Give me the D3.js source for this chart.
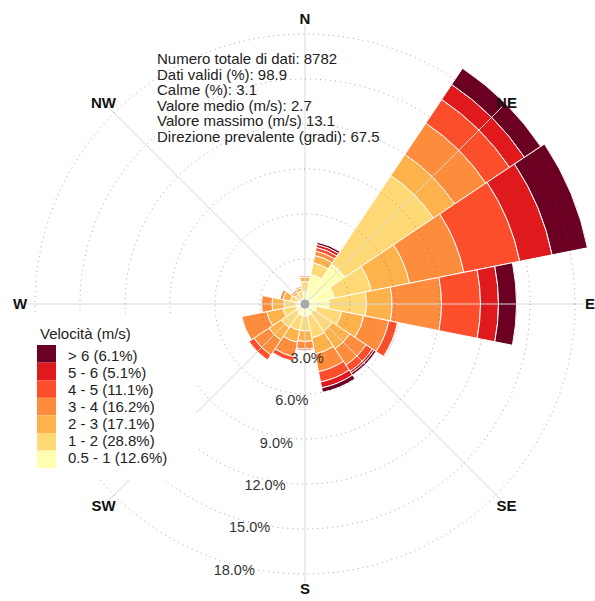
<!DOCTYPE html>
<html>
<head>
<meta charset="utf-8">
<script src="https://cdn.jsdelivr.net/npm/d3@7"></script>
<style>
  html, body { margin: 0; padding: 0; background: #fff; }
  svg { display: block; font-family: Arial, "Liberation Sans", sans-serif; }
</style>
</head>
<body>
<svg id="chart" width="595" height="601"></svg>
<script>
// Wind directions (16 sectors, clockwise from north)
const directions = ["N","NNE","NE","ENE","E","ESE","SE","SSE","S","SSW","SW","WSW","W","WNW","NW","NNW"];

// Speed classes, from slowest to fastest
const speedClasses = ["0.5 - 1","1 - 2","2 - 3","3 - 4","4 - 5","5 - 6","> 6"];
const classShares  = ["12.6%","28.8%","17.1%","16.2%","11.1%","5.1%","6.1%"];
const classColors  = ["#ffffb2","#fed976","#feb24c","#fd8d3c","#fc4e2a","#e0191c","#6b0023"];

// Frequency (%) of each speed class for every direction
const freq05_1 = [0.8, 2.0, 3.2, 2.0, 1.6, 0.8, 0.7, 0.8, 0.8, 0.8, 0.7, 0.6, 0.6, 0.5, 0.4, 0.4];
const freq1_2  = [0.7, 0.8, 7.1, 2.5, 2.5, 1.7, 1.5, 1.5, 1.0, 1.0, 1.2, 0.9, 0.8, 0.5, 0.4, 0.5];
const freq2_3  = [0.3, 0.5, 1.7, 2.6, 1.7, 1.5, 1.4, 1.1, 0.7, 0.8, 1.0, 1.1, 0.8, 0.5, 0.2, 0.2];
const freq3_4  = [0.1, 0.3, 2.5, 3.7, 3.3, 1.7, 1.3, 1.2, 0.5, 1.0, 1.2, 1.7, 0.7, 0.2, 0.1, 0.1];
const freq4_5  = [0.0, 0.25,1.9, 3.8, 2.6, 0.6, 0.5, 0.7, 0.1, 0.3, 0.4, 0.0, 0.0, 0.0, 0.0, 0.0];
const freq5_6  = [0.0, 0.2, 1.2, 2.2, 1.2, 0.05,0.15,0.4, 0.0, 0.0, 0.0, 0.0, 0.0, 0.0, 0.0, 0.0];
const freqGt6  = [0.0, 0.15,1.3, 2.4, 1.2, 0.05,0.15,0.3, 0.0, 0.0, 0.0, 0.0, 0.0, 0.0, 0.0, 0.0];
const classFreqs = [freq05_1, freq1_2, freq2_3, freq3_4, freq4_5, freq5_6, freqGt6];

// Radial grid
const gridTicks = [3, 6, 9, 12, 15, 18];
const compass = [["N",0],["NE",45],["E",90],["SE",135],["S",180],["SW",225],["W",270],["NW",315]];

// Summary statistics
const statsLines = [
  "Numero totale di dati: 8782",
  "Dati validi (%): 98.9",
  "Calme (%): 3.1",
  "Valore medio (m/s): 2.7",
  "Valore massimo (m/s) 13.1",
  "Direzione prevalente (gradi): 67.5"
];

const svg = d3.select("#chart");
const cx = 305, cy = 304;
const r = d3.scaleLinear().domain([0, 18]).range([0, 270]);
const sector = 2 * Math.PI / directions.length;
const rad = d => d * Math.PI / 180;

const g = svg.append("g").attr("transform", `translate(${cx},${cy})`);

// stacked segments
const stacked = directions.map((dir, i) => {
  let acc = 0;
  return classFreqs.map((arr, k) => {
    const s = { dir: i, k, y0: acc, y1: acc + arr[i] };
    acc += arr[i];
    return s;
  });
}).flat().filter(d => d.y1 > d.y0);

const arc = d3.arc()
  .innerRadius(d => r(d.y0))
  .outerRadius(d => r(d.y1))
  .startAngle(d => d.dir * sector - sector / 2)
  .endAngle(d => d.dir * sector + sector / 2);

g.append("g").selectAll("path").data(stacked).join("path")
  .attr("d", arc)
  .attr("fill", d => classColors[d.k])
  .attr("stroke", "#fff")
  .attr("stroke-width", 1);

// axis lines through the centre
g.append("g").selectAll("line").data(compass).join("line")
  .attr("x1", 0).attr("y1", 0)
  .attr("x2", d => r(18.6) * Math.sin(rad(d[1])))
  .attr("y2", d => -r(18.6) * Math.cos(rad(d[1])))
  .attr("stroke", "#d9d9d9")
  .attr("stroke-width", 1);

// dotted grid circles
g.append("g").selectAll("circle").data(gridTicks).join("circle")
  .attr("r", d => r(d))
  .attr("fill", "none")
  .attr("stroke", "#555")
  .attr("stroke-opacity", 0.55)
  .attr("stroke-width", 1)
  .attr("stroke-dasharray", "1,4");

// centre marker
g.append("circle").attr("r", 4.5).attr("fill", "#a9a9a9");

// compass labels
g.append("g").selectAll("text").data(compass).join("text")
  .attr("x", d => 285 * Math.sin(rad(d[1])))
  .attr("y", d => -285 * Math.cos(rad(d[1])))
  .attr("dy", "0.36em")
  .attr("text-anchor", "middle")
  .attr("font-weight", "bold")
  .attr("font-size", 15)
  .attr("fill", "#111")
  .text(d => d[0]);

// legend (white panel covers the grid underneath)
const legend = svg.append("g");
legend.append("rect")
  .attr("x", 28).attr("y", 314).attr("width", 168).attr("height", 166)
  .attr("fill", "#fff");
legend.append("text")
  .attr("x", 40).attr("y", 334)
  .attr("dy", "0.36em")
  .attr("font-size", 15).attr("fill", "#222")
  .text("Velocità (m/s)");
const order = d3.range(speedClasses.length).reverse();
const sw = 17.6;
legend.selectAll("rect.sw").data(order).join("rect")
  .attr("class", "sw")
  .attr("x", 37).attr("y", (d, i) => 345 + i * sw)
  .attr("width", 19).attr("height", sw)
  .attr("fill", d => classColors[d]);
legend.selectAll("text.lab").data(order).join("text")
  .attr("class", "lab")
  .attr("x", 68).attr("y", (d, i) => 356 + i * 17)
  .attr("dy", "0.36em")
  .attr("font-size", 15).attr("fill", "#222")
  .text(d => `${speedClasses[d]} (${classShares[d]})`);

// radial tick labels
const la = rad(200);
g.append("g").selectAll("text").data(gridTicks).join("text")
  .attr("x", d => 1 + r(d) * Math.sin(la))
  .attr("y", d => 11.6 - r(d) * Math.cos(la))
  .attr("dy", "0.36em")
  .attr("font-size", 14.5)
  .attr("fill", "#333")
  .text(d => d3.format(".1f")(d) + "%");

// statistics block
svg.append("g").selectAll("text").data(statsLines).join("text")
  .attr("x", 157)
  .attr("y", (d, i) => 59 + i * 15.5)
  .attr("dy", "0.36em")
  .attr("font-size", 15)
  .attr("fill", "#222")
  .text(d => d);
</script>
</body>
</html>
